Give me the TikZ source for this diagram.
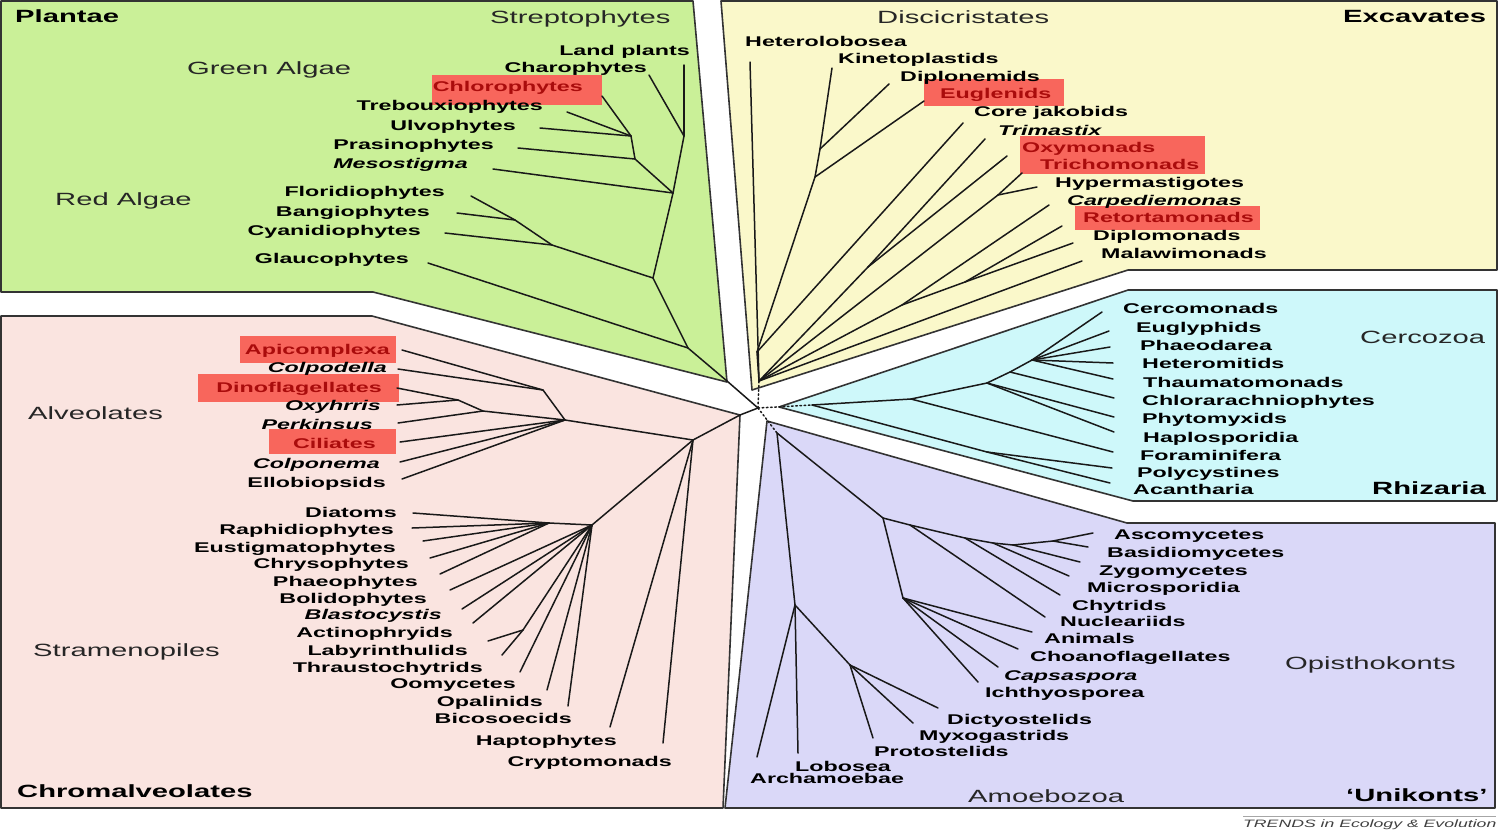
\documentclass[tikz,border=0pt]{standalone}
\usepackage{fontspec}
\newfontfamily\tfont{Liberation Sans}[FakeStretch=1.65]
\definecolor{plantcol}{RGB}{202,240,152}
\definecolor{excavcol}{RGB}{250,248,202}
\definecolor{rhizcol}{RGB}{206,248,250}
\definecolor{chromcol}{RGB}{250,228,224}
\definecolor{unikcol}{RGB}{218,216,248}
\definecolor{hlbox}{RGB}{248,102,92}
\definecolor{hltext}{RGB}{170,12,12}
\begin{document}
\begin{tikzpicture}[x=1pt,y=-1pt]
    \tikzstyle{rim}=[line width=1.6pt,draw=black!80,line join=round]
    \tikzstyle{br}=[line width=1.5pt,draw=black!90,line cap=round]
    \tikzstyle{root}=[br,dash pattern=on 1.6pt off 2.6pt]
    \tikzstyle{leaf}=[inner sep=0pt,font={\tfont\bfseries\fontsize{14.1}{16}\selectfont}]
    \tikzstyle{leafL}=[leaf,anchor=base east]
    \tikzstyle{leafR}=[leaf,anchor=base west]
    \tikzstyle{grp}=[inner sep=0pt,anchor=base west,text=black!85,font={\tfont\fontsize{17.7}{20}\selectfont}]
    \tikzstyle{ttl}=[inner sep=0pt,anchor=base west,font={\tfont\bfseries\fontsize{17.7}{20}\selectfont}]
    \useasboundingbox (0,0) rectangle (1500,831);

    % supergroup areas
    \filldraw[rim,fill=plantcol] (1,1) -- (693,1) -- (727,382) -- (373,292) -- (1,292) -- cycle;
    \filldraw[rim,fill=excavcol] (721,1) -- (1497,1) -- (1497,270) -- (1128,270) -- (752,390) -- cycle;
    \filldraw[rim,fill=rhizcol] (779,407) -- (1128,290) -- (1497,290) -- (1497,501) -- (1133,501) -- cycle;
    \filldraw[rim,fill=chromcol] (1,316) -- (372,316) -- (740,415) -- (723,808) -- (1,808) -- cycle;
    \filldraw[rim,fill=unikcol] (767,421) -- (1127,523) -- (1495,523) -- (1495,808) -- (725,808) -- cycle;

    % highlighted taxa
    \fill[hlbox] (432,75) rectangle (602,105);
    \fill[hlbox] (924,79) rectangle (1064,106);
    \fill[hlbox] (1020,136) rectangle (1205,174);
    \fill[hlbox] (1075,206) rectangle (1260,230);
    \fill[hlbox] (240,336) rectangle (396,363);
    \fill[hlbox] (198,374) rectangle (399,402);
    \fill[hlbox] (269,429) rectangle (396,454);

    % inner nodes of the tree
    \foreach \n/\x/\y in {C/758/408,
      P0/727/381,P1/688/348,P2/653/278,P3/673/193,S1/684/136,G1/635/159,G2/631/136,R1/552/245,R2/515/220,
      E0/759/381,E1/757/352,E2/815/177,E3/820/149,X1/868/267,PA/998/195,F1/902/305,F2/965/282,
      RH0/812/405,RH1/911/399,RH2/987/383,RH3/1010/372,RH4/1032/360,RA/987/452,
      CR/740/415,CH0/693/440,AL0/565/420,AP/543/390,D1/458/400,D2/483/411,ST0/592/525,ST1/549/523,LT/523/630,
      U0/777/433,AM1/795/605,AM2/850/665,OP0/883/518,OP1/903/598,N1/910/525,N2/965/538,N3/993/543,N4/1013/545,N5/1053/541}
    \coordinate (\n) at (\x,\y);

    % Plantae leaves
    \foreach \n/\tx/\ty/\lx/\ly/\t in {
      land/684/65/690/55/Land plants, charo/649/75/647/72/Charophytes,
      chloro/602/96/583/91/\textcolor{hltext}{Chlorophytes}, treb/567/112/543/110/Trebouxiophytes,
      ulvo/540/128/516/130/Ulvophytes, pras/518/148/494/149/Prasinophytes,
      meso/493/169/468/168/\textit{Mesostigma}, flor/471/196/445/196/Floridiophytes,
      bang/457/213/430/216/Bangiophytes, cyan/445/233/421/235/Cyanidiophytes,
      glau/428/263/409/263/Glaucophytes}
    {
      \coordinate (t-\n) at (\tx,\ty);
      \node[leafL] (l-\n) at (\lx,\ly) {\t};
    }

    % Excavates leaves
    \foreach \n/\tx/\ty/\lx/\ly/\t in {
      hetero/750/62/745/46/Heterolobosea, kineto/832/68/838/63/Kinetoplastids,
      diplon/889/84/900/81/Diplonemids, eugl/924/101/940/98/\textcolor{hltext}{Euglenids},
      corej/963/123/974/116/Core jakobids, trima/985/139/998/135/\textit{Trimastix},
      oxy/1007/156/1022/152/\textcolor{hltext}{Oxymonads}, tricho/1022/173/1040/169/\textcolor{hltext}{Trichomonads},
      hyper/1037/187/1055/187/Hypermastigotes, carpe/1049/205/1067/205/\textit{Carpediemonas},
      retor/1062/226/1083/222/\textcolor{hltext}{Retortamonads}, diplom/1073/243/1093/240/Diplomonads,
      malaw/1082/261/1101/258/Malawimonads}
    {
      \coordinate (t-\n) at (\tx,\ty);
      \node[leafR] (l-\n) at (\lx,\ly) {\t};
    }

    % Rhizaria leaves
    \foreach \n/\tx/\ty/\lx/\ly/\t in {
      cerco/1102/312/1123/313/Cercomonads, eugly/1109/331/1136/332/Euglyphids,
      phaeod/1110/347/1140/350/Phaeodarea, hetmi/1113/363/1142/368/Heteromitids,
      thaum/1113/379/1143/387/Thaumatomonads, chlor/1114/398/1142/405/Chlorarachniophytes,
      phyto/1114/417/1142/423/Phytomyxids, haplo/1114/432/1143/442/Haplosporidia,
      foram/1113/452/1140/460/Foraminifera, polyc/1112/468/1137/477/Polycystines,
      acan/1110/483/1133/494/Acantharia}
    {
      \coordinate (t-\n) at (\tx,\ty);
      \node[leafR] (l-\n) at (\lx,\ly) {\t};
    }

    % Chromalveolates leaves
    \foreach \n/\tx/\ty/\lx/\ly/\t in {
      apic/402/350/390/354/\textcolor{hltext}{Apicomplexa}, colpod/398/369/387/372/\textit{Colpodella},
      dino/397/388/382/392/\textcolor{hltext}{Dinoflagellates}, oxyh/397/405/381/410/\textit{Oxyhrris},
      perk/398/423/373/429/\textit{Perkinsus}, cili/400/442/376/448/\textcolor{hltext}{Ciliates},
      colpon/400/462/380/468/\textit{Colponema}, ellob/402/479/386/487/Ellobiopsids,
      diat/413/513/397/517/Diatoms, raph/412/528/394/534/Raphidiophytes,
      eust/423/541/396/552/Eustigmatophytes, chrys/430/558/409/568/Chrysophytes,
      phaeo/440/574/418/586/Phaeophytes, bolid/450/590/427/603/Bolidophytes,
      blast/462/609/442/619/\textit{Blastocystis}, actin/473/623/453/637/Actinophryids,
      labyr/488/641/468/655/Labyrinthulids, thrau/502/655/483/672/Thraustochytrids,
      oomy/520/672/516/688/Oomycetes, opal/547/690/543/706/Opalinids,
      bicos/568/706/572/723/Bicosoecids, hapto/610/727/617/745/Haptophytes,
      crypt/663/743/672/766/Cryptomonads}
    {
      \coordinate (t-\n) at (\tx,\ty);
      \node[leafL] (l-\n) at (\lx,\ly) {\t};
    }

    % Unikonts leaves
    \foreach \n/\tx/\ty/\lx/\ly/\t in {
      asco/1093/533/1114/539/Ascomycetes, basid/1088/547/1107/557/Basidiomycetes,
      zygo/1080/562/1099/575/Zygomycetes, micro/1069/576/1087/592/Microsporidia,
      chyt/1060/595/1072/610/Chytrids, nucl/1045/617/1060/626/Nucleariids,
      anim/1032/632/1044/643/Animals, choan/1018/649/1030/661/Choanoflagellates,
      capsa/998/667/1004/680/\textit{Capsaspora}, ichth/978/682/985/697/Ichthyosporea,
      dicty/938/708/947/724/Dictyostelids, myxo/913/723/919/740/Myxogastrids,
      proto/873/738/874/756/Protostelids, lobo/798/753/795/771/Lobosea,
      archa/757/757/750/783/Archamoebae}
    {
      \coordinate (t-\n) at (\tx,\ty);
      \node[leafR] (l-\n) at (\lx,\ly) {\t};
    }

    % branches
    \foreach \a/\b in {C/P0,P0/P1,P1/t-glau,P1/P2,P2/R1,R1/t-cyan,R1/R2,R2/t-bang,R2/t-flor,
      P2/P3,P3/t-meso,P3/G1,G1/t-pras,G1/G2,G2/t-ulvo,G2/t-treb,G2/t-chloro,P3/S1,S1/t-land,S1/t-charo}
    \draw[br] (\a) -- (\b);
    \foreach \a/\b in {E0/t-hetero,E0/E1,E1/E2,E2/E3,E3/t-kineto,E3/t-diplon,E2/t-eugl,E1/t-corej,
      E0/X1,X1/t-trima,X1/t-oxy,E0/PA,PA/t-tricho,PA/t-hyper,E0/F1,F1/t-carpe,F1/F2,F2/t-retor,
      F2/t-diplom,E0/t-malaw}
    \draw[br] (\a) -- (\b);
    \foreach \a/\b in {RH0/RH1,RH1/RH2,RH2/RH3,RH3/RH4,RH4/t-cerco,RH4/t-eugly,RH4/t-phaeod,RH4/t-hetmi,
      RH4/t-thaum,RH3/t-chlor,RH2/t-phyto,RH2/t-haplo,RH1/t-foram,RH0/RA,RA/t-polyc,RA/t-acan}
    \draw[br] (\a) -- (\b);
    \foreach \a/\b in {C/CR,CR/CH0,CH0/AL0,AL0/AP,AP/t-apic,AP/t-colpod,AL0/D2,D2/D1,D1/t-dino,D1/t-oxyh,
      D2/t-perk,AL0/t-cili,AL0/t-colpon,AL0/t-ellob,CH0/ST0,ST0/ST1,ST1/t-diat,ST1/t-raph,ST1/t-eust,
      ST1/t-chrys,ST1/t-phaeo,ST0/t-bolid,ST0/t-blast,ST0/t-actin,ST0/LT,LT/t-labyr,LT/t-thrau,
      ST0/t-oomy,ST0/t-opal,ST0/t-bicos,CH0/t-hapto,CH0/t-crypt}
    \draw[br] (\a) -- (\b);
    \foreach \a/\b in {U0/AM1,AM1/t-archa,AM1/t-lobo,AM1/AM2,AM2/t-dicty,AM2/t-myxo,AM2/t-proto,
      U0/OP0,OP0/OP1,OP1/t-anim,OP1/t-choan,OP1/t-capsa,OP1/t-ichth,OP0/N1,N1/t-nucl,N1/N2,N2/t-chyt,
      N2/N3,N3/t-micro,N3/N4,N4/t-zygo,N4/N5,N5/t-asco,N5/t-basid}
    \draw[br] (\a) -- (\b);

    % uncertain deep branches
    \foreach \b in {E0,RH0,U0}
    \draw[root] (C) -- (\b);

    % group names
    \node[ttl] (plantae) at (15,22) {Plantae};
    \node[grp] (strepto) at (490,23) {Streptophytes};
    \node[grp] (green) at (187,74) {Green Algae};
    \node[grp] (red) at (55,205) {Red Algae};
    \node[grp] (discic) at (877,23) {Discicristates};
    \node[ttl] (excav) at (1343,22) {Excavates};
    \node[grp] (cercoz) at (1360,343) {Cercozoa};
    \node[ttl] (rhiz) at (1372,494) {Rhizaria};
    \node[grp] (alveo) at (28,419) {Alveolates};
    \node[grp] (strame) at (33,656) {Stramenopiles};
    \node[ttl] (chromalv) at (17,797) {Chromalveolates};
    \node[grp] (opist) at (1285,669) {Opisthokonts};
    \node[grp] (amoeb) at (968,802) {Amoebozoa};
    \node[ttl] (unik) at (1346,801) {‘Unikonts’};

    % journal credit
    \coordinate (rule-a) at (1243,816);
    \coordinate (rule-b) at (1496,816);
    \draw[black!35,line width=0.6pt] (rule-a) -- (rule-b);
    \node[inner sep=0pt,anchor=base west,text=black!75,font={\tfont\itshape\fontsize{10.7}{12}\selectfont}]
      (credit) at (1243,827) {TRENDS in Ecology \& Evolution};
\end{tikzpicture}
\end{document}
